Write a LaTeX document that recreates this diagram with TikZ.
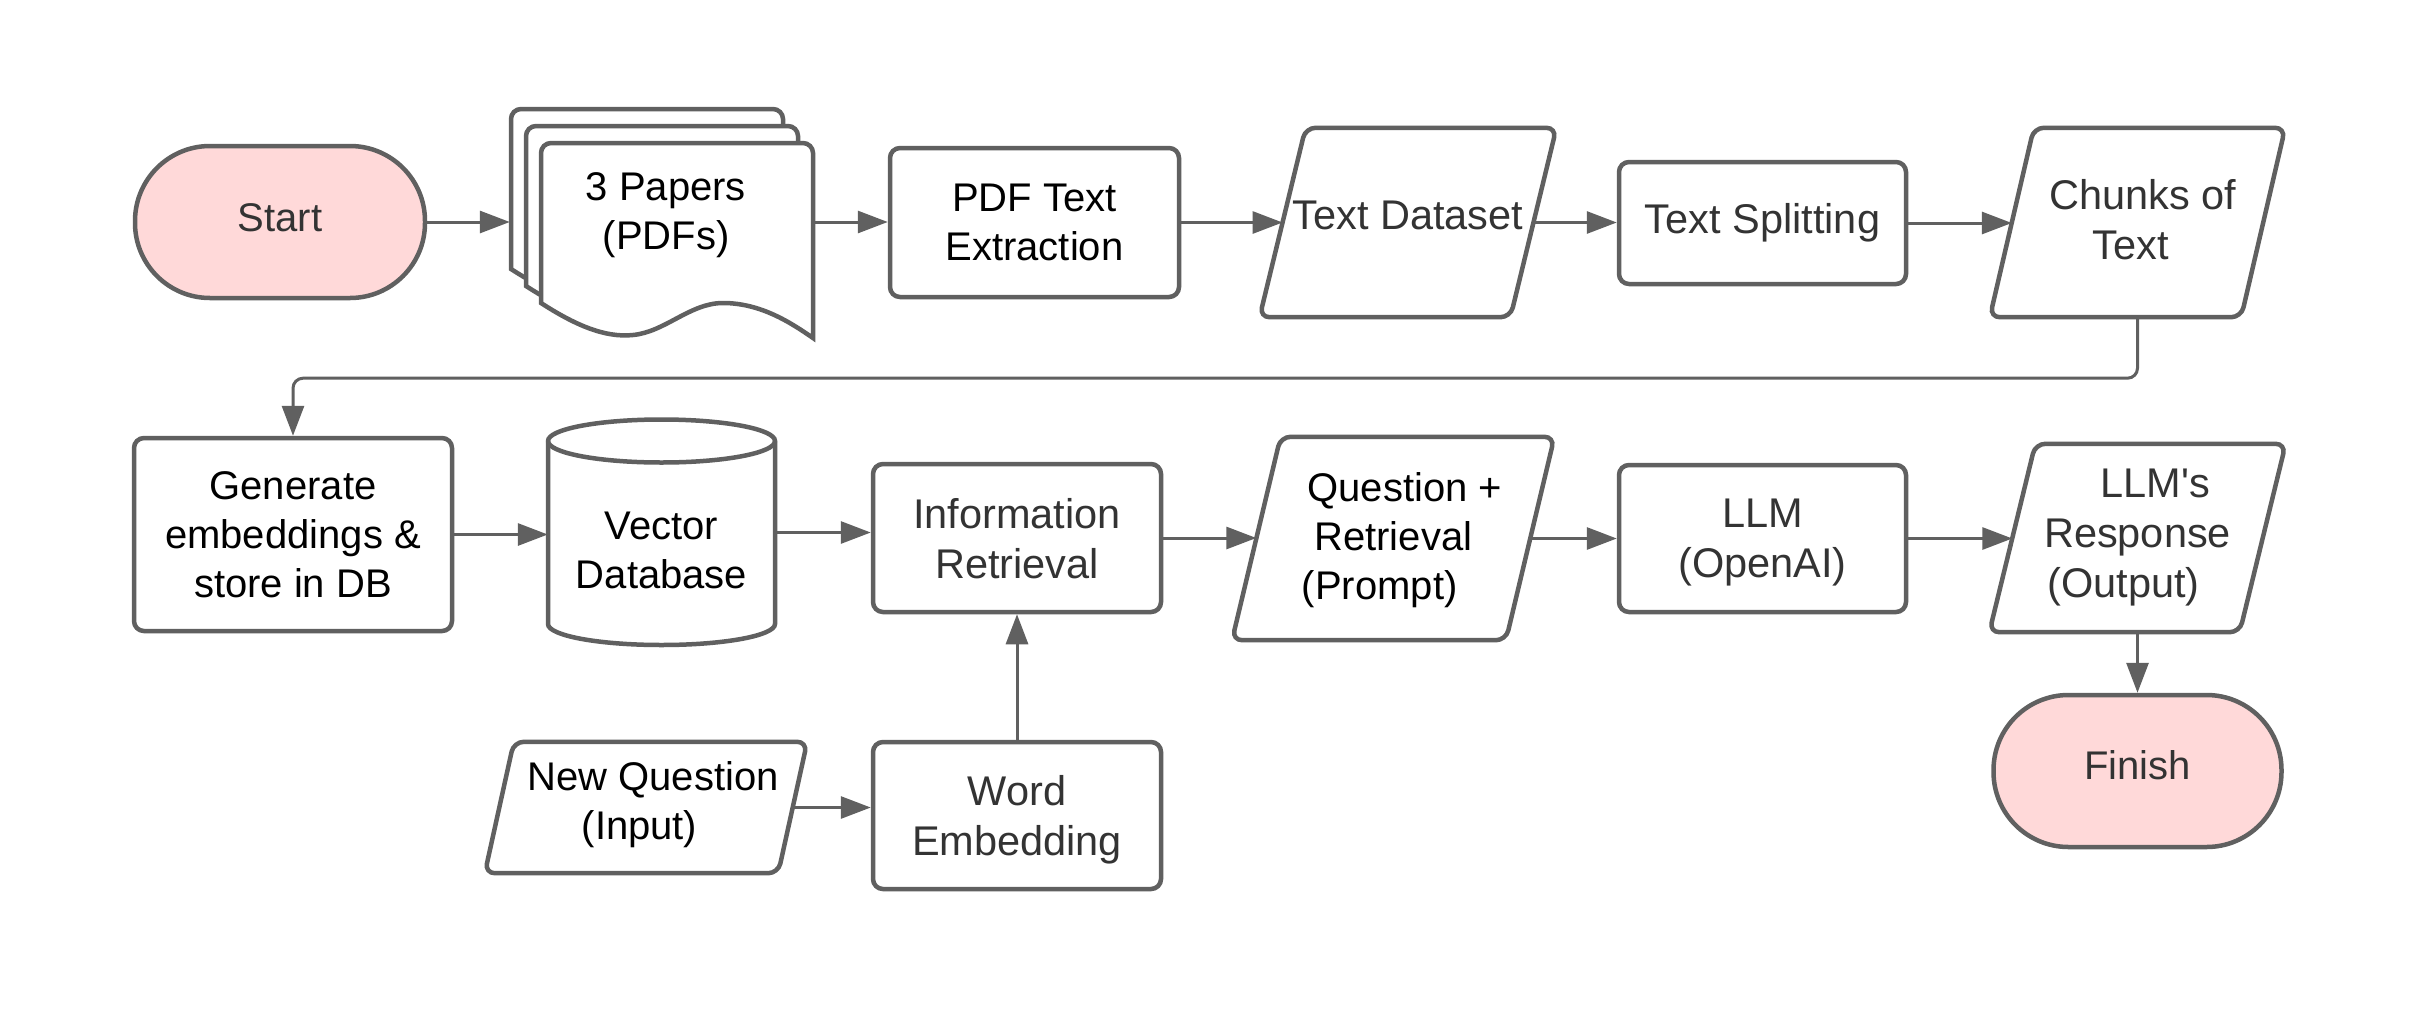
\documentclass[tikz,border=0pt]{standalone}
\usepackage{fontspec}
\setmainfont{Liberation Sans}[Ligatures=TeXOff]
\usetikzlibrary{arrows.meta,calc}
\definecolor{lc}{HTML}{606060}
\definecolor{pinkfill}{HTML}{FFD9D9}
\definecolor{txtd}{HTML}{333333}
\newcommand\paraol[2]{\draw[outl] ([xshift=#2]#1.north west) -- ([xshift=#2]#1.north east) -- ([xshift=-#2]#1.south east) -- ([xshift=-#2]#1.south west) -- cycle;}
\begin{document}
\begin{tikzpicture}[x=1pt, y=-1pt,
  every node/.style={inner sep=0pt, align=center, text depth=0pt, font=\fontsize{40pt}{49pt}\selectfont},
  btxt/.style={text=black},
  gtxt/.style={text=txtd, font=\fontsize{41.5pt}{50pt}\selectfont},
  shp/.style={draw=lc, line width=4.5pt, fill=white},
  box/.style={shp, rounded corners=10pt},
  term/.style={shp, fill=pinkfill, rounded corners=75pt, minimum height=152pt, text=txtd},
  outl/.style={draw=lc, line width=4.5pt, rounded corners=10pt},
  arr/.style={draw=lc, line width=3pt, -{Triangle[length=30pt,width=22pt]}},
]
\fill[white] (0,0) rectangle (2417,1018);
\useasboundingbox (0,0) rectangle (2417,1018);

% ---------- row 1 ----------
\node[term, minimum width=290pt, text depth=8pt] (start) at (280,222) {Start};

% stacked documents
\foreach \dx/\dy in {-30/34, -15/17, 0/0}{
  \draw[shp, xshift=\dx pt, yshift=\dy pt]
    (541,153) .. controls (541,147.5) and (545.5,143) .. (551,143) -- (803,143)
    .. controls (808.5,143) and (813,147.5) .. (813,153) -- (813,338)
    .. controls (790,322) and (760,303) .. (723,303)
    .. controls (690,303) and (665,332) .. (633,335)
    .. controls (605,338) and (575,325) .. (541,303) -- cycle;
}
\node[minimum width=303pt, minimum height=200pt] (docs) at (661.5,222) {};
\node[btxt] (docst) at (666,211) {3 Papers\\(PDFs)};

\node[box, btxt, minimum width=289pt, minimum height=149pt] (pdf) at (1034.5,222.5) {PDF Text\\Extraction};

\node[gtxt, text depth=14pt, minimum width=250.5pt, minimum height=189pt] (td) at (1408,222.5) {Text Dataset};
\paraol{td}{23pt}

\node[box, gtxt, text depth=9pt, minimum width=287pt, minimum height=122pt] (ts) at (1762.5,223) {Text Splitting};

\node[gtxt, text depth=6pt, minimum width=251pt, minimum height=189pt] (ch) at (2137.5,222.5) {\hspace*{11pt}Chunks of\\\hspace*{-13pt}Text};
\paraol{ch}{22pt}

% ---------- row 2 ----------
\node[box, btxt, minimum width=318pt, minimum height=193pt] (gen) at (293,534.5) {Generate\\embeddings \&\\store in DB};

% vector database cylinder
\node[minimum width=227pt, minimum height=225pt] (vd) at (661.5,532.5) {};
\draw[shp] (548,441) -- (548,624)
  .. controls (548,635.6) and (598.8,645) .. (661.5,645)
  .. controls (724.2,645) and (775,635.6) .. (775,624) -- (775,441)
  .. controls (775,429.1) and (724.2,419.5) .. (661.5,419.5)
  .. controls (598.8,419.5) and (548,429.1) .. (548,441) -- cycle;
\draw[draw=lc, line width=4.5pt] (548,441) .. controls (548,452.9) and (598.8,462.5) .. (661.5,462.5)
  .. controls (724.2,462.5) and (775,452.9) .. (775,441);
\node[btxt] (vdt) at (661.5,550) {Vector\\Database};

\node[box, gtxt, minimum width=288pt, minimum height=148pt] (ir) at (1017,538) {Information\\Retrieval};

\node[btxt, text depth=6pt, minimum width=273.5pt, minimum height=203pt] (q) at (1393.25,538.5) {\hspace*{23pt}Question +\\Retrieval\\\hspace*{-27pt}(Prompt)};
\paraol{q}{24.25pt}

\node[box, gtxt, minimum width=287pt, minimum height=147pt] (llm) at (1762.5,538.5) {LLM\\(OpenAI)};

\node[gtxt, text depth=10pt, minimum width=250pt, minimum height=188pt] (resp) at (2137.5,538) {\hspace*{36pt}LLM's\\Response\\\hspace*{-28pt}(Output)};
\paraol{resp}{23pt}

% ---------- row 3 ----------
\node[term, minimum width=288pt, text depth=12pt] (fin) at (2137.5,771) {Finish};

\node[btxt, text depth=14pt, minimum width=293pt, minimum height=131pt] (nq) at (646,807.5) {\hspace*{14pt}New Question\\\hspace*{-13pt}(Input)};
\paraol{nq}{14.5pt}

\node[box, gtxt, minimum width=288pt, minimum height=147pt] (we) at (1017,815.5) {Word\\Embedding};

% ---------- connectors ----------
\draw[arr] (start.east) -- (start.east -| docs.west);
\draw[arr] (docs.east) -- (docs.east -| pdf.west);
\draw[arr] (pdf.east) -- (pdf.east -| td.west);
\draw[arr] (td.east) -- (td.east -| ts.west);
\draw[arr] (ts.east) -- (ts.east -| ch.west);
\draw[arr, rounded corners=10pt] (ch.south) -- ++(0,61) -| (gen.north);
\draw[arr] (gen.east) -- (gen.east -| vd.west);
\draw[arr] (vd.east) -- (vd.east -| ir.west);
\draw[arr] (ir.east) -- (ir.east -| q.west);
\draw[arr] (q.east) -- (q.east -| llm.west);
\draw[arr] (llm.east) -- (llm.east -| resp.west);
\draw[arr] (resp.south) -- (resp.south |- fin.north);
\draw[arr] (nq.east) -- (nq.east -| we.west);
\draw[arr] (we.north) -- (we.north |- ir.south);
\end{tikzpicture}
\end{document}
